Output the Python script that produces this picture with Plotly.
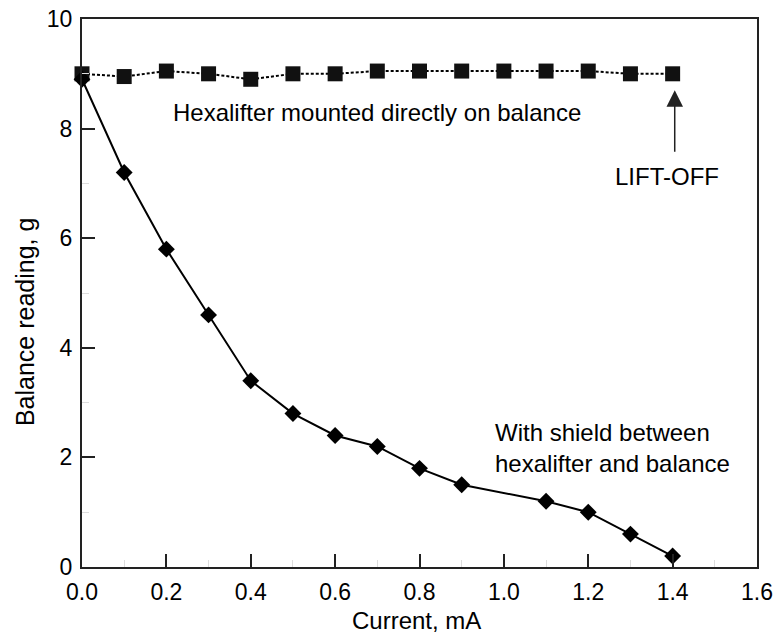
import plotly.graph_objects as go

# Data
x_direct = [0.0, 0.1, 0.2, 0.3, 0.4, 0.5, 0.6, 0.7, 0.8, 0.9, 1.0, 1.1, 1.2, 1.3, 1.4]
y_direct = [9.0, 8.95, 9.05, 9.0, 8.9, 9.0, 9.0, 9.05, 9.05, 9.05, 9.05, 9.05, 9.05, 9.0, 9.0]

x_shield = [0.0, 0.1, 0.2, 0.3, 0.4, 0.5, 0.6, 0.7, 0.8, 0.9, 1.1, 1.2, 1.3, 1.4]
y_shield = [8.9, 7.2, 5.8, 4.6, 3.4, 2.8, 2.4, 2.2, 1.8, 1.5, 1.2, 1.0, 0.6, 0.2]

x_ticks = [0.0, 0.2, 0.4, 0.6, 0.8, 1.0, 1.2, 1.4, 1.6]
y_ticks = [0, 2, 4, 6, 8, 10]

FONT = "Liberation Sans"

fig = go.Figure()
fig.add_trace(go.Scatter(
    x=x_direct, y=y_direct, mode="lines+markers",
    line=dict(color="black", width=2, dash="3px,2px"),
    marker=dict(symbol="square", size=15, color="#111111"),
    showlegend=False, cliponaxis=False))
fig.add_trace(go.Scatter(
    x=x_shield, y=y_shield, mode="lines+markers",
    line=dict(color="black", width=2),
    marker=dict(symbol="diamond", size=13, color="black"),
    showlegend=False, cliponaxis=False))

fig.add_annotation(x=0.699, y=8.3, text="Hexalifter mounted directly on balance",
                   showarrow=False, font=dict(size=24, color="black", family=FONT))
fig.add_annotation(x=1.386, y=7.12, text="LIFT-OFF",
                   showarrow=False, font=dict(size=24, color="black", family=FONT))
fig.add_annotation(x=1.405, y=8.70, ax=1.405, ay=7.55, xref="x", yref="y",
                   axref="x", ayref="y", text="", showarrow=True,
                   arrowhead=2, arrowsize=2.2, arrowwidth=1.5, arrowcolor="#222222")
fig.add_annotation(x=0.975, y=2.17, xanchor="left",
                   text="With shield between<br>hexalifter and balance", align="left",
                   showarrow=False, font=dict(size=24, color="black", family=FONT))

# Axis titles
fig.add_annotation(xref="paper", yref="paper", x=-0.0844, y=0.447, textangle=-90,
                   xanchor="center", yanchor="middle", text="Balance reading, g",
                   showarrow=False, font=dict(size=25, color="black", family=FONT))
fig.add_annotation(xref="paper", yref="paper", x=0.495, y=-0.0985,
                   xanchor="center", yanchor="middle", text="Current, mA",
                   showarrow=False, font=dict(size=24, color="black", family=FONT))

axis_common = dict(
    showgrid=False, zeroline=False, showline=True, linecolor="#222222", linewidth=2,
    mirror=True, ticks="inside", ticklen=13, tickwidth=2, tickcolor="#222222",
    tickfont=dict(size=23, color="black", family=FONT), automargin=False,
    minor=dict(ticks="inside", ticklen=7, tickcolor="#dddddd", tickwidth=1, showgrid=False),
)

fig.update_xaxes(range=[0, 1.6], tickvals=x_ticks,
                 ticktext=[f"{v:.1f}" for v in x_ticks], ticklabelstandoff=3, **axis_common)
fig.update_yaxes(range=[0, 10], tickvals=y_ticks,
                 ticktext=[str(v) for v in y_ticks], ticklabelstandoff=3, **axis_common)
fig.update_xaxes(minor=dict(dtick=0.1, tick0=0))
fig.update_yaxes(minor=dict(dtick=1, tick0=0))

fig.update_layout(
    width=775, height=636,
    margin=dict(l=82, r=18, t=19, b=69),
    paper_bgcolor="white", plot_bgcolor="white",
    font=dict(family=FONT, color="black"),
)

fig.write_html("out.html", config={"displayModeBar": False},
               post_script="document.body.style.margin='0';document.body.style.padding='0';")
